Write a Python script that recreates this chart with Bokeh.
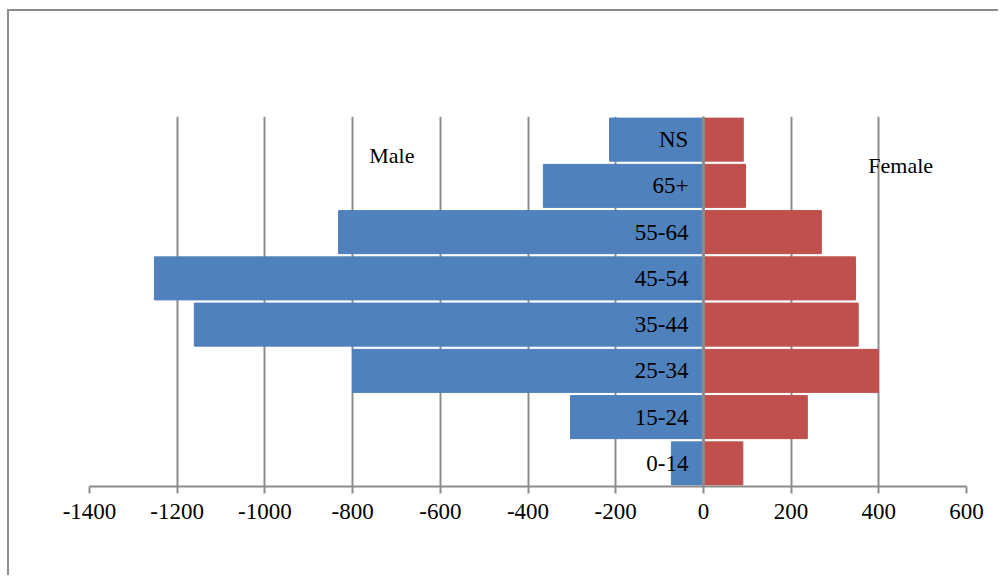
from bokeh.plotting import figure
from bokeh.models import FixedTicker, Span, Label, ColumnDataSource, CustomJSTickFormatter
from bokeh.core.properties import value
from bokeh.embed import file_html
from bokeh.resources import INLINE

categories = ["0-14", "15-24", "25-34", "35-44", "45-54", "55-64", "65+", "NS"]
male = [-73, -303, -800, -1161, -1252, -832, -365, -214]
female = [90, 237, 399, 353, 347, 269, 96, 91]
x_ticks = [-1400, -1200, -1000, -800, -600, -400, -200, 0, 200, 400, 600]

FONT = "Liberation Serif"
GRAY = "#8c8c8c"

src = ColumnDataSource(dict(cat=categories, male=male, female=female,
                            zero=[0] * len(categories)))

p = figure(width=991, height=566, y_range=categories, x_range=(-1400, 600),
           output_backend="svg", toolbar_location=None,
           min_border_left=80, min_border_right=34, min_border_top=105,
           min_border_bottom=91)
p.styles = {"border-top": "2px solid #8c8c8c", "border-left": "2px solid #8c8c8c",
            "border-right": "none", "border-bottom": "none",
            "margin-left": "7px", "margin-top": "9px"}
p.outline_line_color = None
p.y_range.range_padding = 0

p.ygrid.visible = False
p.yaxis.visible = False
p.xgrid.grid_line_color = GRAY
p.xgrid.grid_line_width = 2

p.xaxis.ticker = FixedTicker(ticks=x_ticks)
p.xaxis.formatter = CustomJSTickFormatter(code="return tick.toFixed(0);")
p.xaxis.minor_tick_line_color = None
p.xaxis.major_tick_in = 0
p.xaxis.major_tick_out = 7
p.xaxis.major_tick_line_color = GRAY
p.xaxis.major_tick_line_width = 2
p.xaxis.axis_line_color = GRAY
p.xaxis.axis_line_width = 2
p.xaxis.major_label_text_font = FONT
p.xaxis.major_label_text_font_size = "23px"
p.xaxis.major_label_text_color = "black"
p.xaxis.major_label_standoff = 10

p.hbar(y="cat", left="male", right="zero", height=0.93, source=src,
       fill_color="#4F81BD", line_color="#4F81BD")
p.hbar(y="cat", left="zero", right="female", height=0.93, source=src,
       fill_color="#C0504D", line_color="#C0504D")

p.add_layout(Span(location=0, dimension="height", line_color=GRAY, line_width=3))

p.text(x="zero", y="cat", text="cat", source=src, x_offset=-15,
       text_align="right", text_baseline="middle",
       text_font=value(FONT), text_font_size="23px", text_color="black")

p.add_layout(Label(x=-762, y=7.165, text="Male", text_font=FONT,
                   text_font_size="22px", text_baseline="middle",
                   text_color="black"))
p.add_layout(Label(x=376, y=6.95, text="Female", text_font=FONT,
                   text_font_size="22px", text_baseline="middle",
                   text_color="black"))

open("out.html", "w").write(file_html(p, INLINE))
